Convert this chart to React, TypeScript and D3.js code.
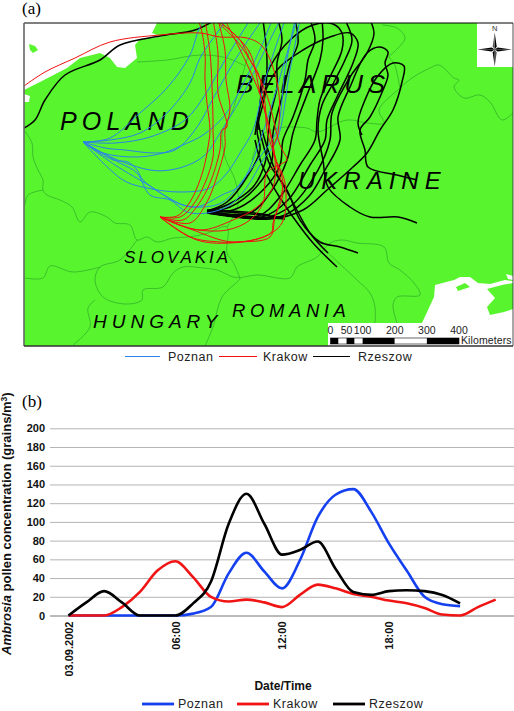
import React, { useLayoutEffect, useRef } from 'react';
import * as d3 from 'd3';

type Pt = [number, number];

// ---- chart (b) values, one per hour from 03.09.2002 00:00
const poznanValues = [0, 0, 0, 0, 0, 0, 0, 2, 9, 45, 67, 47, 29, 59, 105, 129, 135, 111, 77, 48, 20, 12, 10];
const krakowValues = [0, 0, 0, 9, 25, 48, 58, 41, 20, 15, 17, 14, 9, 22, 33, 29, 23, 20, 16, 13, 8, 1, 0, 9, 17];
const rzeszowValues = [0, 14, 26, 14, 0, 0, 0, 13, 36, 98, 130, 98, 65, 70, 79, 50, 25, 22, 26, 27, 26, 22, 13];
const yTicks = [0, 20, 40, 60, 80, 100, 120, 140, 160, 180, 200];
const xTickHours = [0, 6, 12, 18];
const xTickLabels = ['03.09.2002', '06:00', '12:00', '18:00'];
const seriesNames = ['Poznan', 'Krakow', 'Rzeszow'];

// ---- map (a), all in map units
const balticSea: Pt[] = [[24, 23], [157, 23], [152, 33], [162, 37], [140, 39], [135, 45], [137, 58], [125, 68], [117, 67], [110, 58], [100, 53], [80, 58], [67, 68], [40, 82], [24, 90]];
const szczecinLagoon: Pt[] = [[24, 94], [30, 96], [29, 102], [24, 102]];
const bornholm: Pt[] = [[29, 44], [35, 46], [38, 50], [33, 53], [30, 50]];
const blackSea: Pt[] = [[422, 323], [434, 297], [435, 285], [454, 280], [460, 277], [470, 277], [478, 283], [490, 284], [505, 280], [513, 281], [513, 346], [422, 346]];
const crimea: Pt[] = [[487, 289], [502, 285], [513, 283], [513, 309], [504, 312], [490, 315], [487, 307], [495, 298]];
const spit: Pt[] = [[456, 287], [465, 283], [470, 287], [458, 291]];
const azovSea: Pt[] = [[506, 274], [513, 276], [513, 280], [508, 279]];

const borderLines: Pt[][] = [
  [[24, 130], [32, 143], [33, 157], [38, 170], [43, 180], [43, 190], [47, 195], [60, 200], [72, 207], [80, 222], [90, 212], [107, 217], [115, 223], [130, 225], [137, 240], [147, 237], [157, 242], [173, 238], [188, 237], [205, 234], [227, 227], [227, 253], [233, 262], [240, 278]],
  [[43, 190], [28, 195], [25, 205]],
  [[137, 240], [120, 260], [100, 267], [95, 280], [103, 297], [125, 304], [142, 300], [143, 290], [163, 287], [173, 273], [183, 267], [203, 268], [217, 270], [233, 277], [240, 278], [222, 297], [213, 327], [205, 346]],
  [[100, 267], [73, 272], [50, 266], [43, 278], [25, 278]],
  [[95, 300], [88, 308], [90, 327], [73, 345]],
  [[240, 278], [257, 275], [290, 278], [297, 267], [317, 257], [330, 243], [342, 240], [357, 243], [384, 247], [389, 263], [400, 270], [414, 283], [420, 295], [397, 297], [393, 305], [397, 323]],
  [[327, 252], [357, 280], [370, 293], [375, 307], [375, 323]],
  [[285, 127], [307, 128], [317, 132], [347, 120], [367, 123], [384, 123], [379, 110], [400, 88], [412, 78], [430, 68], [439, 65], [454, 78], [459, 80], [454, 87], [464, 98], [480, 95], [490, 102], [502, 120], [513, 113]],
  [[400, 88], [394, 63], [389, 57], [394, 52], [405, 38], [397, 28], [382, 25]],
  [[137, 62], [167, 60], [200, 55], [227, 58], [245, 66]],
  [[227, 227], [238, 205], [235, 180], [226, 160], [222, 140], [223, 130], [232, 112], [240, 85], [245, 66], [250, 50]],
  [[285, 127], [262, 135], [252, 160]],
];

const poznanPaths: Pt[][] = [
  [[83, 142], [110, 138], [140, 113], [167, 88], [190, 55], [200, 27], [207, 20]],
  [[83, 142], [110, 140], [140, 133], [167, 113], [190, 83], [200, 58], [217, 33], [227, 20]],
  [[83, 142], [115, 143], [150, 137], [185, 120], [205, 95], [225, 60], [250, 20]],
  [[83, 142], [103, 153], [137, 157], [163, 153], [183, 145], [203, 135], [225, 115], [245, 80], [262, 45], [272, 20]],
  [[83, 142], [113, 158], [150, 170], [170, 170], [193, 163], [207, 153], [220, 133], [240, 100], [260, 60], [280, 20]],
  [[83, 142], [123, 180], [147, 188], [180, 192], [210, 188], [227, 173], [240, 153], [253, 130], [265, 80], [285, 20]],
  [[83, 142], [115, 165], [150, 186], [167, 197], [183, 205], [203, 207], [223, 202], [243, 180], [260, 157], [277, 130], [285, 70], [295, 20]],
  [[83, 142], [120, 163], [137, 173], [150, 195], [170, 200], [187, 212], [207, 213], [230, 205], [247, 187], [263, 160], [277, 140], [290, 70], [300, 20]],
  [[83, 142], [113, 160], [128, 162], [137, 170], [143, 180], [167, 197], [183, 205], [197, 207], [222, 195], [240, 185], [262, 135], [285, 60], [297, 20]],
  [[83, 142], [105, 148], [125, 150], [155, 153], [175, 150], [195, 130], [215, 95], [235, 60], [262, 20]],
];

const krakowPaths: Pt[][] = [
  [[160, 217], [177, 216], [190, 202], [200, 180], [205, 163], [208, 147], [210, 130], [207, 103], [205, 80], [205, 53], [200, 25], [197, 20]],
  [[160, 217], [180, 217], [193, 205], [205, 183], [213, 157], [213, 130], [213, 120], [212, 87], [210, 53], [205, 20]],
  [[160, 217], [183, 220], [198, 205], [210, 183], [220, 150], [222, 130], [227, 127], [218, 93], [218, 53], [213, 20]],
  [[160, 217], [190, 223], [207, 202], [218, 173], [225, 147], [225, 130], [230, 110], [226, 80], [225, 50], [218, 20]],
  [[160, 217], [193, 230], [233, 242], [271, 233], [273, 223], [278, 207], [283, 183], [277, 163], [267, 130], [265, 103], [258, 73], [250, 60], [240, 40], [217, 20]],
  [[160, 217], [190, 237], [220, 242], [237, 242], [270, 237], [275, 217], [283, 193], [278, 170], [270, 133], [260, 93], [250, 53], [233, 33], [217, 20]],
  [[160, 217], [197, 240], [230, 243], [263, 237], [282, 223], [285, 183], [273, 150], [278, 133], [278, 87], [263, 47], [247, 38], [220, 37], [200, 33], [160, 35], [110, 42], [75, 58], [45, 72], [24, 86]],
  [[160, 217], [193, 229], [227, 230], [250, 220], [263, 203], [267, 173], [283, 163], [287, 160], [280, 145], [265, 90], [240, 45], [215, 20]],
  [[160, 217], [200, 230], [233, 220], [257, 207], [273, 187], [275, 160], [262, 100], [245, 60], [225, 20]],
];

const rzeszowPaths: Pt[][] = [
  [[24, 128], [35, 120], [45, 100], [65, 75], [100, 60], [120, 45], [160, 36], [195, 30], [215, 20]],
  [[207, 211], [227, 202], [247, 177], [260, 150], [257, 130], [265, 95], [267, 60], [263, 20]],
  [[207, 211], [227, 205], [253, 187], [265, 163], [268, 137], [270, 117], [277, 87], [277, 63], [282, 40], [278, 20]],
  [[207, 211], [230, 207], [258, 185], [272, 160], [273, 133], [283, 93], [290, 63], [298, 43], [295, 20]],
  [[207, 211], [233, 210], [263, 190], [280, 165], [283, 140], [293, 117], [305, 80], [308, 60], [315, 40], [310, 20]],
  [[207, 211], [250, 213], [272, 190], [287, 160], [293, 133], [300, 113], [310, 87], [320, 60], [323, 40], [322, 20]],
  [[207, 212], [258, 216], [280, 197], [300, 165], [315, 140], [317, 120], [320, 100], [330, 77], [342, 50], [342, 33], [333, 24], [313, 25], [290, 40], [270, 67], [262, 90], [258, 130]],
  [[207, 212], [262, 217], [288, 200], [310, 165], [325, 140], [327, 120], [337, 97], [353, 63], [358, 43], [350, 33], [330, 37], [303, 50], [277, 70], [262, 100], [255, 135]],
  [[207, 212], [264, 218], [292, 205], [318, 170], [330, 140], [332, 113], [350, 77], [367, 53], [374, 33], [370, 20]],
  [[207, 213], [270, 218], [285, 215], [310, 195], [325, 170], [340, 140], [338, 117], [350, 87], [367, 53], [380, 47], [388, 52], [385, 63], [388, 75], [383, 90], [370, 117], [360, 130], [365, 150], [368, 167], [397, 175], [417, 180]],
  [[207, 213], [270, 219], [303, 210], [327, 190], [353, 167], [367, 153], [380, 130], [393, 110], [402, 82], [404, 66], [393, 63], [377, 77], [365, 100], [358, 123], [362, 135]],
  [[417, 223], [398, 217], [370, 217], [350, 207], [328, 187], [323, 160], [318, 130], [322, 105], [335, 80], [345, 60], [352, 40], [345, 20]],
  [[358, 253], [340, 247], [320, 242], [300, 220], [287, 190], [270, 165], [262, 140], [258, 120]],
  [[337, 267], [313, 243], [293, 217], [277, 193], [262, 165], [255, 140]],
  [[328, 253], [310, 233], [290, 197], [275, 170], [268, 150], [262, 130]],
  [[207, 211], [240, 213], [280, 217]],
  [[207, 212], [245, 216], [285, 219]],
  [[207, 210], [245, 212], [270, 215]],
];

// scale bar
const barKm = [0, 25, 50, 75, 100, 200, 300, 400];
const barLabels = [0, 50, 100, 200, 300, 400];

// compass star in map units around its own middle
const compassN: Pt[] = [[0, -17], [2, -3], [0, 0]];
const compassNb: Pt[] = [[0, -17], [-2, -3], [0, 0]];
const compassArms = [0, 90, 180, 270];

const App = () => {
  const svgRef = useRef<SVGSVGElement>(null);

  useLayoutEffect(() => {
    const svg = d3.select(svgRef.current);
    svg.selectAll('*').remove();
    const sans = 'Liberation Sans, Arial, sans-serif';

    // ---- map
    const mapX = d3.scaleLinear().domain([24, 513]).range([24, 513]);
    const mapY = d3.scaleLinear().domain([23, 346]).range([23, 346]);
    svg.append('defs').append('clipPath').attr('id', 'mapClip').append('rect')
      .attr('x', mapX(24)).attr('y', mapY(23)).attr('width', mapX(513) - mapX(24)).attr('height', mapY(346) - mapY(23));

    const map = svg.append('g').attr('clip-path', 'url(#mapClip)');
    map.append('rect').attr('x', mapX(24)).attr('y', mapY(23)).attr('width', mapX(513) - mapX(24)).attr('height', mapY(346) - mapY(23)).attr('fill', '#58f52e');

    const areaLine = d3.line<Pt>().x((d) => mapX(d[0])).y((d) => mapY(d[1])).curve(d3.curveLinearClosed);
    [balticSea, szczecinLagoon, blackSea, azovSea].forEach((poly) => {
      map.append('path').attr('d', areaLine(poly)).attr('fill', '#fff');
    });
    [bornholm, crimea, spit].forEach((poly) => {
      map.append('path').attr('d', areaLine(poly)).attr('fill', '#58f52e');
    });

    const wiggle = d3.line<Pt>().x((d) => mapX(d[0])).y((d) => mapY(d[1])).curve(d3.curveCatmullRom.alpha(0.5));
    map.selectAll('.border').data(borderLines).enter().append('path')
      .attr('class', 'border').attr('d', (d) => wiggle(d)).attr('fill', 'none')
      .attr('stroke', '#2ea82a').attr('stroke-width', 0.7);

    // place names
    const names = [
      { t: 'POLAND', x: 60, y: 130, s: 25, ls: 5.2 },
      { t: 'BELARUS', x: 236, y: 93, s: 26, ls: 4.6 },
      { t: 'UKRAINE', x: 298, y: 189, s: 24, ls: 6 },
      { t: 'SLOVAKIA', x: 124, y: 263, s: 17, ls: 3 },
      { t: 'HUNGARY', x: 93, y: 328, s: 19, ls: 5 },
      { t: 'ROMANIA', x: 232, y: 317, s: 18.5, ls: 4.6 },
    ];
    map.selectAll('.place').data(names).enter().append('text')
      .attr('class', 'place').attr('x', (d) => mapX(d.x)).attr('y', (d) => mapY(d.y))
      .attr('font-family', sans).attr('font-style', 'italic').attr('font-size', (d) => d.s)
      .attr('letter-spacing', (d) => d.ls).attr('fill', '#000').text((d) => d.t);

    // trajectories
    const traj = d3.line<Pt>().x((d) => mapX(d[0])).y((d) => mapY(d[1])).curve(d3.curveCatmullRom.alpha(0.5));
    const drawPaths = (paths: Pt[][], color: string, w: number) => {
      map.append('g').selectAll('path').data(paths).enter().append('path')
        .attr('d', (d) => traj(d)).attr('fill', 'none').attr('stroke', color).attr('stroke-width', w);
    };
    drawPaths(rzeszowPaths, '#000', 1.5);
    drawPaths(poznanPaths, '#2b82ea', 1);
    drawPaths(krakowPaths, '#f01010', 1);

    // compass box
    map.append('rect').attr('x', mapX(477)).attr('y', mapY(23)).attr('width', mapX(513) - mapX(477)).attr('height', mapY(67) - mapY(23)).attr('fill', '#fff');
    const compass = map.append('g').attr('transform', `translate(${mapX(494.7)},${mapY(49.5)})`);
    compassArms.forEach((a) => {
      const arm = compass.append('g').attr('transform', `rotate(${a})`);
      arm.append('path').attr('d', areaLine(compassN.map((p) => [p[0] + 24, p[1] + 23] as Pt)))
        .attr('transform', 'translate(-24,-23)').attr('fill', '#000');
      arm.append('path').attr('d', areaLine(compassNb.map((p) => [p[0] + 24, p[1] + 23] as Pt)))
        .attr('transform', 'translate(-24,-23)').attr('fill', a === 0 || a === 180 ? '#555' : '#000');
    });
    map.append('text').attr('x', mapX(494.7)).attr('y', mapY(31)).attr('text-anchor', 'middle')
      .attr('font-family', sans).attr('font-size', 7.5).attr('fill', '#333').text('N');

    // scale bar
    map.append('rect').attr('x', mapX(328)).attr('y', mapY(323)).attr('width', mapX(513) - mapX(328)).attr('height', mapY(346) - mapY(323)).attr('fill', '#fff');
    const barScale = d3.scaleLinear().domain([0, 400]).range([330.5, 459]);
    barKm.slice(0, -1).forEach((km, i) => {
      map.append('rect').attr('x', barScale(km)).attr('y', mapY(338)).attr('width', barScale(barKm[i + 1]) - barScale(km)).attr('height', 6)
        .attr('fill', i % 2 === 0 ? '#000' : '#fff');
    });
    map.append('rect').attr('x', barScale(0)).attr('y', mapY(338)).attr('width', barScale(400) - barScale(0)).attr('height', 6).attr('fill', 'none').attr('stroke', '#000').attr('stroke-width', 0.6);
    map.selectAll('.barLabel').data(barLabels).enter().append('text')
      .attr('class', 'barLabel').attr('x', (d) => barScale(d)).attr('y', mapY(333.5)).attr('text-anchor', 'middle')
      .attr('font-family', sans).attr('font-size', 10.5).attr('fill', '#222').text((d) => d);
    map.append('text').attr('x', mapX(461)).attr('y', mapY(344)).attr('font-family', sans).attr('font-size', 10.5).attr('letter-spacing', 0.1).attr('fill', '#222').text('Kilometers');

    // frame
    svg.append('path').attr('d', `M${mapX(513)},${mapY(23)}H${mapX(24)}`).attr('stroke', '#000').attr('stroke-width', 1);
    svg.append('path').attr('d', `M${mapX(24)},${mapY(23)}V${mapY(346)}`).attr('stroke', '#666').attr('stroke-width', 1.6);
    svg.append('path').attr('d', `M${mapX(24)},${mapY(346)}H${mapX(513)}`).attr('stroke', '#333').attr('stroke-width', 1.4);
    svg.append('path').attr('d', `M${mapX(513)},${mapY(23)}V${mapY(346)}`).attr('stroke', '#222').attr('stroke-width', 0.8);

    // map legend
    const legendA = [
      { x1: 125, x2: 160, tx: 168, c: '#2b82ea' },
      { x1: 219, x2: 257, tx: 263, c: '#f01010' },
      { x1: 313, x2: 350, tx: 358, c: '#000' },
    ];
    legendA.forEach((l, i) => {
      svg.append('line').attr('x1', l.x1).attr('x2', l.x2).attr('y1', 356.5).attr('y2', 356.5).attr('stroke', l.c).attr('stroke-width', 1.2);
      svg.append('text').attr('x', l.tx).attr('y', 361).attr('font-family', sans).attr('font-size', 12.5).attr('letter-spacing', 0.5).attr('fill', '#222').text(seriesNames[i]);
    });

    // panel letters
    svg.append('text').attr('x', 22).attr('y', 14).attr('font-family', 'Liberation Serif, serif').attr('font-size', 17).text('(a)');
    svg.append('text').attr('x', 22).attr('y', 407).attr('font-family', 'Liberation Serif, serif').attr('font-size', 17).text('(b)');

    // ---- chart
    const x = d3.scaleLinear().domain([0, 24]).range([68.5, 495.7]);
    const y = d3.scaleLinear().domain([0, 200]).range([615.5, 428.3]);

    const yAxis = svg.append('g').attr('transform', 'translate(50,0)')
      .call(d3.axisLeft(y).tickValues(yTicks).tickSize(0).tickPadding(5));
    yAxis.select('.domain').remove();
    yAxis.selectAll('text').attr('font-family', sans).attr('font-size', 11).attr('font-weight', 'bold').attr('fill', '#111');
    yAxis.selectAll('.tick').append('line').attr('x1', 0).attr('x2', 464)
      .attr('stroke', (d) => (d === 0 ? '#777' : '#b4b4b4')).attr('stroke-width', 1);

    const xAxis = svg.append('g').attr('transform', 'translate(0,615.5)')
      .call(d3.axisBottom(x).tickValues(xTickHours).tickSize(0).tickFormat((d, i) => xTickLabels[i]));
    xAxis.select('.domain').remove();
    xAxis.selectAll('text').attr('font-family', sans).attr('font-size', 11).attr('font-weight', 'bold').attr('fill', '#111')
      .attr('transform', 'rotate(-90)').attr('text-anchor', 'end').attr('x', -6).attr('y', 0).attr('dy', '0.35em');

    const line = d3.line<number>().x((d, i) => x(i)).y((d) => y(d)).curve(d3.curveMonotoneX);
    const series = [
      { values: poznanValues, color: '#1440f0' },
      { values: krakowValues, color: '#f01414' },
      { values: rzeszowValues, color: '#000' },
    ];
    svg.append('g').selectAll('path').data(series).enter().append('path')
      .attr('d', (d) => line(d.values)).attr('fill', 'none').attr('stroke', (d) => d.color)
      .attr('stroke-width', 2.6).attr('stroke-linejoin', 'round');

    // axis titles
    const yTitle = svg.append('text').attr('transform', 'translate(11,655) rotate(-90)')
      .attr('font-family', sans).attr('font-size', 13).attr('font-weight', 'bold').attr('fill', '#111');
    yTitle.append('tspan').attr('font-style', 'italic').text('Ambrosia');
    yTitle.append('tspan').text(' pollen concentration (grains/m');
    yTitle.append('tspan').attr('font-size', 8.5).attr('dy', -4).text('3');
    yTitle.append('tspan').attr('dy', 4).text(')');

    svg.append('text').attr('x', 283).attr('y', 690).attr('text-anchor', 'middle')
      .attr('font-family', sans).attr('font-size', 12).attr('font-weight', 'bold').attr('fill', '#111').text('Date/Time');

    // chart legend
    const legendB = [
      { x1: 142, x2: 174, tx: 178, c: '#1440f0' },
      { x1: 237, x2: 269, tx: 273, c: '#f01414' },
      { x1: 333, x2: 365, tx: 369, c: '#000' },
    ];
    legendB.forEach((l, i) => {
      svg.append('line').attr('x1', l.x1).attr('x2', l.x2).attr('y1', 704).attr('y2', 704).attr('stroke', l.c).attr('stroke-width', 2.8);
      svg.append('text').attr('x', l.tx).attr('y', 708).attr('font-family', sans).attr('font-size', 12.5).attr('letter-spacing', 0.5).attr('fill', '#222').text(seriesNames[i]);
    });
  }, []);

  return (
    <svg
      ref={svgRef}
      width={514}
      height={711}
      style={{ position: 'absolute', left: 0, top: 0, display: 'block', background: '#fff' }}
    ></svg>
  );
};

export default App;
